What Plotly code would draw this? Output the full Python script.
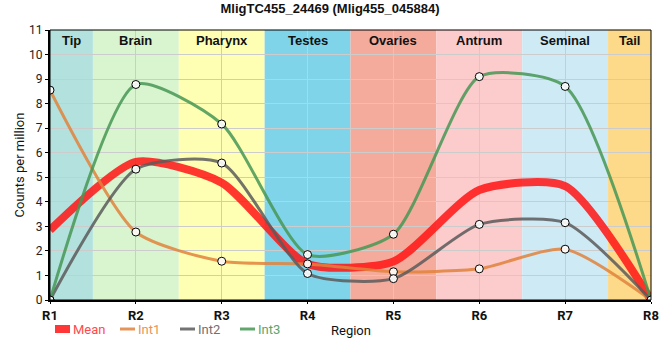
import plotly.graph_objects as go

regions = ["R1", "R2", "R3", "R4", "R5", "R6", "R7", "R8"]
tissues = ["Tip", "Brain", "Pharynx", "Testes", "Ovaries", "Antrum", "Seminal", "Tail"]
tissue_colors = ["#b3e2de", "#d9f5cf", "#ffffb3", "#80d4ea", "#f4ab9b", "#fccbcb", "#ceebf5", "#fdd98a"]

int1 = [8.55, 2.77, 1.58, 1.47, 1.15, 1.27, 2.07, 0.0]
int2 = [0.0, 5.33, 5.58, 1.08, 0.87, 3.08, 3.15, 0.0]
int3 = [0.0, 8.78, 7.17, 1.85, 2.68, 9.10, 8.70, 0.0]
mean = [2.85, 5.63, 4.78, 1.47, 1.57, 4.48, 4.64, 0.0]

title = "MligTC455_24469 (Mlig455_045884)"
xs = list(range(len(regions)))

W, H = 660, 360
ML, MR, MT, MB = 50, 9, 30, 60
PW, PH = W - ML - MR, H - MT - MB


def px(X):
    return (X - ML) / PW


def py(Y):
    return (H - MB - Y) / PH


fig = go.Figure()

# background bands
n = len(regions)
for i, (t, c) in enumerate(zip(tissues, tissue_colors)):
    x0 = max(i - 0.5, 0)
    x1 = min(i + 0.5, n - 1)
    fig.add_shape(type="rect", xref="x", yref="paper", x0=x0, x1=x1, y0=0, y1=1,
                  fillcolor=c, line_width=0, layer="below")
    fig.add_annotation(x=(x0 + x1) / 2, y=1, xref="x", yref="paper", yanchor="top",
                       text="<b>%s</b>" % t, showarrow=False, yshift=-1,
                       font=dict(family="Liberation Sans, Arial", size=13, color="#111"))

SM = 0.65
fig.add_trace(go.Scatter(x=xs, y=mean, mode="lines", name="Mean", showlegend=False,
                         line=dict(color="rgba(255,20,20,0.85)", width=8, shape="spline", smoothing=SM)))
series = [("Int1", int1, "rgba(225,130,60,0.85)", "#e8935a"),
          ("Int2", int2, "rgba(90,90,90,0.85)", "#707070"),
          ("Int3", int3, "rgba(70,150,85,0.85)", "#5aa56a")]
for name, ys, lc, tc in series:
    fig.add_trace(go.Scatter(x=xs, y=ys, mode="lines+markers", name=name, showlegend=False,
                             line=dict(color=lc, width=3, shape="spline", smoothing=SM),
                             marker=dict(size=8, color="rgba(255,255,255,0.9)",
                                         line=dict(color="black", width=1))))

# manual legend (line swatch + coloured text)
legend_items = [("Mean", "rgba(255,20,20,0.85)", "#ff4a4a", 8, 55),
                ("Int1", "rgba(225,130,60,0.85)", "#e8935a", 3, 120),
                ("Int2", "rgba(90,90,90,0.85)", "#707070", 3, 180),
                ("Int3", "rgba(70,150,85,0.85)", "#5aa56a", 3, 240)]
LY = 329
for name, lc, tc, lw, X in legend_items:
    fig.add_shape(type="line", xref="paper", yref="paper", x0=px(X), x1=px(X + 15),
                  y0=py(LY), y1=py(LY), line=dict(color=lc, width=lw))
    fig.add_annotation(xref="paper", yref="paper", x=px(X + 17), y=py(LY), xanchor="left",
                       yanchor="middle", text=name, showarrow=False, borderpad=0,
                       font=dict(family="Roboto, Liberation Sans, Arial", size=13, color=tc))
fig.add_annotation(xref="paper", yref="paper", x=px(351), y=py(331), xanchor="center",
                   yanchor="middle", text="Region", showarrow=False, borderpad=0,
                   font=dict(family="Roboto, Liberation Sans, Arial", size=13, color="#111"))

fig.update_layout(
    width=W, height=H,
    margin=dict(l=ML, r=MR, t=MT, b=MB, autoexpand=False),
    paper_bgcolor="white", plot_bgcolor="white",
    title=dict(text="<b>%s</b>" % title, x=0.5, xanchor="center", y=0.99, yanchor="top",
               yref="container", automargin=False,
               font=dict(family="Liberation Sans, Arial", size=13, color="#111")),
    font=dict(family="Roboto, Liberation Sans, Arial", size=12, color="#111"),
    showlegend=False,
)
fig.update_xaxes(range=[0, n - 1], tickmode="array", tickvals=xs,
                 ticktext=["<b>%s</b>" % r for r in regions], automargin=False,
                 showgrid=True, gridcolor="#cccccc", gridwidth=1,
                 showline=True, linecolor="black", linewidth=2, mirror=False,
                 ticks="outside", ticklen=2, tickcolor="black", zeroline=False,
                 tickfont=dict(size=13, color="#111"))
fig.update_yaxes(range=[0, 11], dtick=1, showgrid=True, gridcolor="#cccccc", gridwidth=1,
                 showline=True, linecolor="black", linewidth=2, zeroline=False,
                 ticks="outside", ticklen=3, tickcolor="black", automargin=False,
                 title=dict(text="Counts per million", font=dict(size=13), standoff=2),
                 tickfont=dict(size=12, color="#222"))
# thin frame top/right
fig.add_shape(type="rect", xref="paper", yref="paper", x0=0, x1=1, y0=0, y1=1,
              line=dict(color="black", width=1), fillcolor="rgba(0,0,0,0)", layer="above")

fig.write_html("out.html", config={"displayModeBar": False},
               post_script="document.body.style.margin='0';document.body.style.overflow='hidden';")
